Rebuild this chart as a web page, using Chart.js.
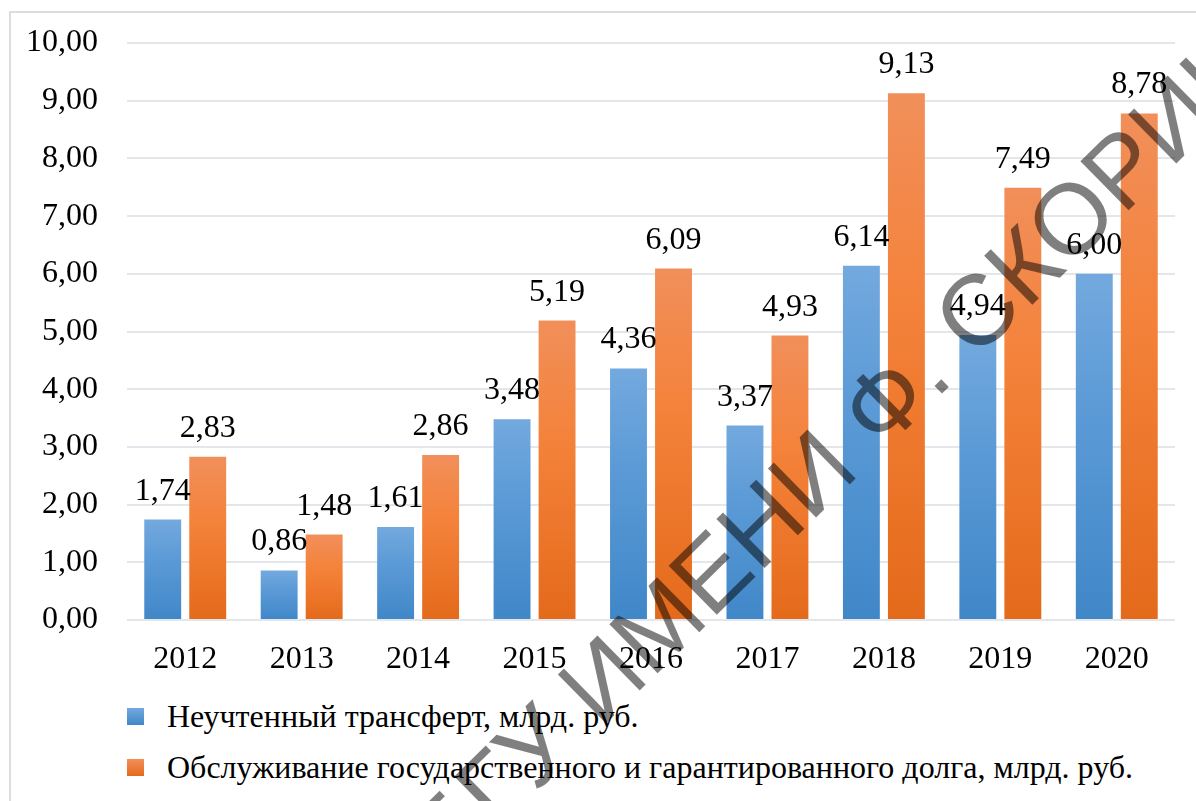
<!DOCTYPE html>
<html>
<head>
<meta charset="utf-8">
<script src="https://cdn.jsdelivr.net/npm/chart.js@4.4.1/dist/chart.umd.min.js"></script>
<style>
html,body{margin:0;padding:0;background:#fff;overflow:hidden;width:1196px;height:801px}
#wrap{position:relative;width:1196px;height:801px;overflow:hidden}
#frame{position:absolute;left:9px;top:11px;width:1300px;height:900px;border:2px solid #dadde2;box-sizing:border-box}
#c{position:absolute;left:0;top:0}
#legend{position:absolute;left:127px;top:691px;font-family:"Liberation Serif","Times New Roman",serif;font-size:32px;color:#000}
.item{display:flex;align-items:center;height:51px;white-space:nowrap}
.box{width:17px;height:17px;margin-right:23px;flex:none}
</style>
</head>
<body>
<div id="wrap">
  <div id="frame"></div>
  <div id="legend"></div>
  <canvas id="c" width="1196" height="801"></canvas>
</div>
<script>
const categories = ['2012','2013','2014','2015','2016','2017','2018','2019','2020'];
const transferValues = [1.74, 0.86, 1.61, 3.48, 4.36, 3.37, 6.14, 4.94, 6.00];
const debtValues = [2.83, 1.48, 2.86, 5.19, 6.09, 4.93, 9.13, 7.49, 8.78];
const seriesNames = ['Неучтенный трансферт, млрд. руб.', 'Обслуживание государственного и гарантированного долга, млрд. руб.'];
const yMin = 0, yMax = 10, yStep = 1;
const watermarkText = 'БГУ ИМЕНИ Ф. СКОРИНЫ';

const blueStops = ['#73a9de', '#5b9ad6', '#4087c8'];
const orangeStops = ['#f18f5a', '#f4823a', '#e46a1b'];
const serif = '"Liberation Serif", "Times New Roman", serif';

const fmt = v => Number(v).toFixed(2).replace('.', ',');

function barGradient(stops) {
  return (ctx) => {
    const chart = ctx.chart;
    if (!chart.chartArea || ctx.type !== 'data') return stops[1];
    const y = chart.scales.y;
    const yTop = y.getPixelForValue(ctx.raw);
    const yBot = y.getPixelForValue(0);
    if (!isFinite(yTop) || Math.abs(yBot - yTop) < 1) return stops[1];
    const g = chart.ctx.createLinearGradient(0, yTop, 0, yBot);
    g.addColorStop(0, stops[0]);
    g.addColorStop(0.4, stops[1]);
    g.addColorStop(1, stops[2]);
    return g;
  };
}

const valueLabels = {
  id: 'valueLabels',
  afterDatasetsDraw(chart) {
    const c = chart.ctx;
    c.save();
    c.font = '32px ' + serif;
    c.fillStyle = '#000';
    c.textAlign = 'center';
    c.textBaseline = 'alphabetic';
    chart.data.datasets.forEach((ds, i) => {
      const meta = chart.getDatasetMeta(i);
      meta.data.forEach((bar, j) => {
        c.fillText(fmt(ds.data[j]), bar.x, bar.y - 20);
      });
    });
    c.restore();
  }
};

const watermark = {
  id: 'watermark',
  afterDraw(chart) {
    const c = chart.ctx;
    c.save();
    c.font = '100px "Liberation Sans", Arial, sans-serif';
    c.fillStyle = 'rgba(0,0,0,0.5)';
    c.textBaseline = 'middle';
    c.textAlign = 'left';
    const ang = -44.5 * Math.PI / 180;
    const idx = watermarkText.indexOf('Ф');
    const pre = c.measureText(watermarkText.slice(0, idx)).width;
    const fw = c.measureText('Ф').width;
    const off = pre + fw / 2;
    const cx = 889, cy = 407;
    c.translate(cx - off * Math.cos(ang), cy - off * Math.sin(ang));
    c.rotate(ang);
    c.fillText(watermarkText, 0, 0);
    c.restore();
  }
};

const chart = new Chart(document.getElementById('c'), {
  type: 'bar',
  data: {
    labels: categories,
    datasets: [
      { label: seriesNames[0], data: transferValues, backgroundColor: barGradient(blueStops), borderWidth: 0,
        categoryPercentage: 0.773, barPercentage: 0.82 },
      { label: seriesNames[1], data: debtValues, backgroundColor: barGradient(orangeStops), borderWidth: 0,
        categoryPercentage: 0.773, barPercentage: 0.82 }
    ]
  },
  options: {
    responsive: false,
    animation: false,
    devicePixelRatio: 1,
    layout: { autoPadding: false, padding: { left: 0, right: 21, top: 43, bottom: 120 } },
    plugins: {
      legend: { display: false },
      title: { display: false },
      tooltip: { enabled: false }
    },
    scales: {
      x: {
        grid: { display: false, drawTicks: false },
        border: { display: false },
        ticks: { color: '#000', padding: 20, font: { family: serif, size: 32 } },
        afterFit(scale) { scale.height = 61; }
      },
      y: {
        min: yMin, max: yMax,
        grid: { color: '#e3e6eb', lineWidth: 2, drawTicks: false },
        border: { display: false },
        ticks: { stepSize: yStep, color: '#000', padding: 29, callback: v => fmt(v),
                 font: { family: serif, size: 32 } },
        afterFit(scale) { scale.width = 127; scale.paddingTop = 0; }
      }
    }
  },
  plugins: [valueLabels, watermark]
});

const legend = document.getElementById('legend');
[[seriesNames[0], blueStops], [seriesNames[1], orangeStops]].forEach(([name, st]) => {
  const it = document.createElement('div');
  it.className = 'item';
  const b = document.createElement('span');
  b.className = 'box';
  b.style.background = `linear-gradient(${st[0]}, ${st[2]})`;
  const t = document.createElement('span');
  t.textContent = name;
  it.appendChild(b); it.appendChild(t);
  legend.appendChild(it);
});
</script>
</body>
</html>
